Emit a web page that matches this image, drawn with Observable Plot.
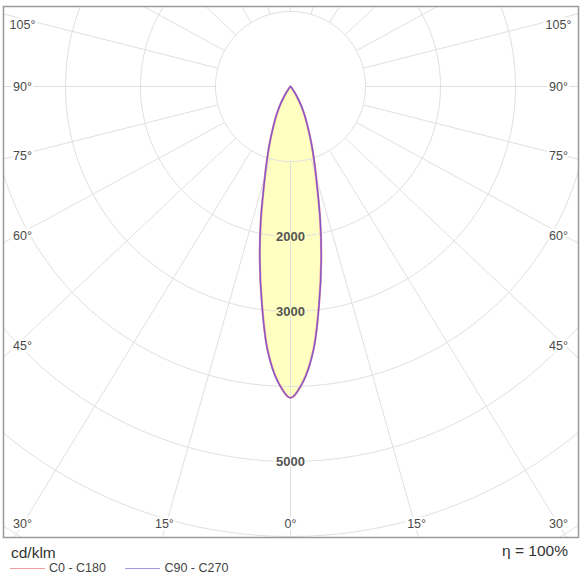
<!DOCTYPE html>
<html><head><meta charset="utf-8">
<script src="https://cdn.jsdelivr.net/npm/d3@7"></script>
<script src="https://cdn.jsdelivr.net/npm/@observablehq/plot@0.6"></script>
<style>
body{margin:0;background:#fff;font-family:"Liberation Sans",Arial,sans-serif;}
#wrap{width:580px;}
#foot{position:relative;height:40px;width:580px;color:#333;}
#foot div{position:absolute;white-space:nowrap;}
.lg{display:inline-block;width:35px;height:0;border-top:1.3px solid;vertical-align:middle;margin-right:4px;}
</style></head><body>
<div id="wrap"><div id="chart"></div>
<div id="foot">
  <div style="left:11px;top:5px;font-size:15.5px;line-height:16px;">cd/klm</div>
  <div style="right:12px;top:3px;font-size:15.5px;line-height:16px;">η = 100%</div>
  <div style="left:10px;top:21px;font-size:12.5px;line-height:14px;color:#444;">
    <span class="lg" style="border-color:#f29c9c"></span>C0 - C180
    <span class="lg" style="border-color:#a09ce6;margin-left:16px"></span>C90 - C270
  </div>
</div></div>
<script>
// gamma angles (degrees from nadir) and intensities (cd/klm)
const angles  = [0, 2.5, 5, 7.5, 10, 12.5, 15, 17.5, 20, 22.5, 25, 27.5, 30, 32.5, 35, 40, 45, 50, 60, 70, 80, 90];
const c0c180  = [4150, 3930, 3520, 2920, 2355, 1830, 1365, 1055, 820, 625, 485, 365, 255, 160, 95, 35, 12, 5, 2, 1, 0, 0];
const c90c270 = [4150, 3935, 3525, 2925, 2360, 1835, 1370, 1058, 822, 626, 486, 366, 256, 160, 95, 35, 12, 5, 2, 1, 0, 0];
const rings = [1000, 2000, 3000, 4000, 5000, 6000, 7000];
const ringLabels = [2000, 3000, 5000];
const angleLabels = [0, 15, 30, 45, 60, 75, 90, 105];
const rayStep = 15;
const seriesNames = ["C0 - C180", "C90 - C270"];

// layout (pixels)
const W = 580, H = 540;
const cx = 290, cy = 86, pxPer = 0.075; // pixels per cd
const mL = 3, mR = 2, mT = 6, mB = 3;
const toX = p => (p - cx) / pxPer, toY = p => (cy - p) / pxPer;
const xDom = [toX(mL), toX(W - mR)], yDom = [toY(H - mB), toY(mT)];
const stretch = 1.06;
const rad = d => d * Math.PI / 180;

function outline(vals) {
  const pts = [];
  for (let i = angles.length - 1; i >= 0; i--) pts.push({a: -angles[i], v: vals[i]});
  for (let i = 1; i < angles.length; i++) pts.push({a: angles[i], v: vals[i]});
  return pts.map(p => ({x: p.v * Math.sin(rad(p.a)), y: -p.v * Math.cos(rad(p.a))}));
}
const curve0 = outline(c0c180), curve90 = outline(c90c270);

const circlePts = rings.flatMap(r => d3.range(0, 361, 2).map(t => ({r, x: r * Math.sin(rad(t)), y: r * Math.cos(rad(t))})));

function dir(a) { // ray direction with horizontal stretch
  const dx = stretch * Math.sin(rad(a)), dy = -Math.cos(rad(a));
  const n = Math.hypot(dx, dy);
  return [dx / n, dy / n];
}
const rays = d3.range(-180, 180, rayStep).map(a => {
  const [ux, uy] = dir(a);
  return {x1: rings[0] * ux, y1: rings[0] * uy, x2: 9000 * ux, y2: 9000 * uy};
});

// label positions: ray meets a rectangle inset 12px, clamped to a rectangle inset ~20px
const hitBox = {x0: toX(15), x1: toX(565), y0: toY(530), y1: toY(10)};
const clampBox = {x0: toX(22), x1: toX(558), y0: toY(523), y1: toY(24)};
const labelPts = [];
for (const a of angleLabels) for (const s of (a === 0 ? [1] : [-1, 1])) {
  const [ux, uy] = dir(s * a);
  let t = Infinity;
  if (ux > 1e-9) t = Math.min(t, hitBox.x1 / ux);
  if (ux < -1e-9) t = Math.min(t, hitBox.x0 / ux);
  if (uy < -1e-9) t = Math.min(t, hitBox.y0 / uy);
  if (uy > 1e-9) t = Math.min(t, hitBox.y1 / uy);
  const x = Math.max(clampBox.x0, Math.min(clampBox.x1, t * ux));
  const y = Math.max(clampBox.y0, Math.min(clampBox.y1, t * uy));
  labelPts.push({x, y, text: a + "°"});
}

const ringLabelPts = ringLabels.map(r => ({x: 0, y: -r, text: String(r), inside: r < c0c180[0]}));

const chart = Plot.plot({
  width: W, height: H,
  marginLeft: mL, marginRight: mR, marginTop: mT, marginBottom: mB,
  x: {domain: xDom, axis: null},
  y: {domain: yDom, axis: null},
  style: {fontFamily: "'Liberation Sans', Arial, sans-serif", background: "#fff"},
  marks: [
    Plot.line(curve0, {x: "x", y: "y", fill: "#ffffc2", stroke: "none", curve: "catmull-rom"}),
    Plot.line(circlePts, {x: "x", y: "y", z: "r", stroke: "#e0e0e0", strokeWidth: 1, clip: true}),
    Plot.link(rays, {x1: "x1", y1: "y1", x2: "x2", y2: "y2", stroke: "#e0e0e0", strokeWidth: 1, clip: true}),
    Plot.line(curve0, {x: "x", y: "y", stroke: "#f08ca0", strokeWidth: 2.2, curve: "catmull-rom", title: () => seriesNames[0]}),
    Plot.line(curve90, {x: "x", y: "y", stroke: "#7a58cc", strokeWidth: 1.3, curve: "catmull-rom", title: () => seriesNames[1]}),
    Plot.text(labelPts, {x: "x", y: "y", text: "text", fill: "#4a4a4a", fontSize: 12.5, stroke: "white", strokeWidth: 5}),
    Plot.text(ringLabelPts, {x: "x", y: "y", text: "text", fill: "#555", fontSize: 13, fontWeight: "bold",
      stroke: d => d.inside ? "#ffffc2" : "#ffffff", strokeWidth: 3}),
    Plot.frame({stroke: "#9a9a9a", strokeWidth: 1.5})
  ]
});
document.getElementById("chart").appendChild(chart);
</script>
</body></html>
